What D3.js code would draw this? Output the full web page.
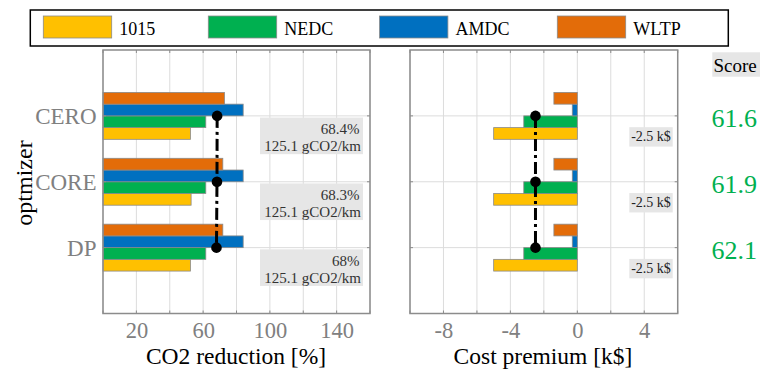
<!DOCTYPE html>
<html><head><meta charset="utf-8">
<script src="https://cdn.jsdelivr.net/npm/d3@7"></script>
<style>
body{margin:0;background:#fff;}
svg{display:block;font-family:"Liberation Serif","DejaVu Serif",serif;}
</style></head>
<body><svg id="c" width="760" height="370"></svg>
<script>
// ---- data ----
const categories = ["CERO", "CORE", "DP"];
const seriesNames = ["1015", "NEDC", "AMDC", "WLTP"];
const seriesColors = ["#FFC000", "#00B050", "#0070C0", "#E36C09"];
const co2_1015 = [52.4, 52.8, 52.4];
const co2_NEDC = [61.6, 61.6, 61.6];
const co2_AMDC = [84.0, 84.0, 84.0];
const co2_WLTP = [72.8, 71.8, 71.8];
const cost_1015 = [-5.0, -5.0, -5.0];
const cost_NEDC = [-3.2, -3.2, -3.2];
const cost_AMDC = [-0.3, -0.3, -0.3];
const cost_WLTP = [-1.4, -1.4, -1.4];
const co2Mean = [68.4, 68.3, 68];
const co2Abs = [125.1, 125.1, 125.1];
const costMean = [-2.5, -2.5, -2.5];
const scores = [61.6, 61.9, 62.1];
const co2Ticks = [20, 60, 100, 140];
const costTicks = [-8, -4, 0, 4];
const co2Domain = [0, 160];
const costDomain = [-10, 6];

const co2Series = [co2_1015, co2_NEDC, co2_AMDC, co2_WLTP];
const costSeries = [cost_1015, cost_NEDC, cost_AMDC, cost_WLTP];

// ---- layout ----
const svg = d3.select("#c");
const pTop = 50, pBottom = 313.5;
const y = d3.scaleLinear().domain([0, categories.length + 1]).range([pTop, pBottom]);
const xL = d3.scaleLinear().domain(co2Domain).range([103, 370]);
const xR = d3.scaleLinear().domain(costDomain).range([410, 677.7]);
const sub = d3.scaleBand().domain(seriesNames.slice().reverse()).range([-0.356, 0.356]);

const GRID = "#dcdcdc", AX = "#8c8c8c", TXT_GRAY = "#808080";

function panel(x, gridTicks, labelTicks, seriesVals, title, titleX) {
  const g = svg.append("g");
  const [x0, x1] = x.range();
  g.selectAll("line.vg").data(gridTicks).join("line")
    .attr("x1", d => x(d)).attr("x2", d => x(d)).attr("y1", pTop).attr("y2", pBottom)
    .attr("stroke", GRID).attr("stroke-width", 1);
  g.selectAll("line.hg").data(categories).join("line")
    .attr("x1", x0).attr("x2", x1).attr("y1", (d, i) => y(i + 1)).attr("y2", (d, i) => y(i + 1))
    .attr("stroke", GRID).attr("stroke-width", 1);
  seriesNames.forEach((s, si) => {
    g.selectAll(null).data(seriesVals[si]).join("rect")
      .attr("x", d => x(Math.min(0, d)))
      .attr("width", d => Math.abs(x(d) - x(0)))
      .attr("y", (d, i) => y(i + 1 + sub(s)))
      .attr("height", (d, i) => y(i + 1 + sub(s) + sub.bandwidth()) - y(i + 1 + sub(s)))
      .attr("fill", seriesColors[si]).attr("stroke", "#8a8a8a").attr("stroke-width", 0.8);
  });
  g.selectAll(null).data(gridTicks).join("line")
    .attr("x1", d => x(d)).attr("x2", d => x(d)).attr("y1", pBottom).attr("y2", pBottom - 3)
    .attr("stroke", AX);
  g.selectAll(null).data(gridTicks).join("line")
    .attr("x1", d => x(d)).attr("x2", d => x(d)).attr("y1", pTop).attr("y2", pTop + 3)
    .attr("stroke", AX);
  g.selectAll(null).data(categories).join("line")
    .attr("x1", x1).attr("x2", x1 - 3).attr("y1", (d, i) => y(i + 1)).attr("y2", (d, i) => y(i + 1))
    .attr("stroke", AX);
  g.selectAll(null).data(categories).join("line")
    .attr("x1", x0).attr("x2", x0 + 3).attr("y1", (d, i) => y(i + 1)).attr("y2", (d, i) => y(i + 1))
    .attr("stroke", AX);
  g.append("rect").attr("x", x0).attr("y", pTop).attr("width", x1 - x0).attr("height", pBottom - pTop)
    .attr("fill", "none").attr("stroke", AX).attr("stroke-width", 1.5);
  const ax = g.append("g").attr("transform", `translate(0,${pBottom})`)
    .call(d3.axisBottom(x).tickValues(labelTicks).tickSize(0).tickPadding(9).tickFormat(d => String(d)));
  ax.select(".domain").remove();
  ax.selectAll("text").attr("font-size", 22.5).attr("fill", TXT_GRAY)
    .attr("font-family", "Liberation Serif").attr("dy", "0").attr("y", 338 - pBottom);
  svg.append("text").attr("x", titleX).attr("y", 364).attr("text-anchor", "middle")
    .attr("font-size", 23.5).attr("fill", "#000").text(title);
  return g;
}

const gL = panel(xL, d3.range(co2Domain[0], co2Domain[1] + 1, 20), co2Ticks, co2Series, "CO2 reduction [%]", 236);
const gR = panel(xR, d3.range(costDomain[0], costDomain[1] + 1, 2), costTicks, costSeries, "Cost premium [k$]", 543);

function meanLine(g, x, vals) {
  const line = d3.line().x(d => x(d[0])).y(d => y(d[1]));
  g.append("path").datum(vals.map((v, i) => [v, i + 1])).attr("d", line)
    .attr("fill", "none").attr("stroke", "#000").attr("stroke-width", 3)
    .attr("stroke-dasharray", "12,4,3,4");
  g.selectAll(null).data(vals).join("circle")
    .attr("cx", d => x(d)).attr("cy", (d, i) => y(i + 1)).attr("r", 5.3).attr("fill", "#000");
}
meanLine(gL, xL, co2Mean);
meanLine(gR, xR, costMean);

categories.forEach((c, i) => {
  const cy = y(i + 1);
  svg.append("rect").attr("x", 260).attr("y", cy + 1.7).attr("width", 103).attr("height", 36.6).attr("fill", "#e6e6e6");
  svg.append("text").attr("x", 359.5).attr("y", cy + 18.5).attr("text-anchor", "end")
    .attr("font-size", 15).attr("fill", "#333").text(co2Mean[i] + "%");
  svg.append("text").attr("x", 361).attr("y", cy + 35).attr("text-anchor", "end")
    .attr("font-size", 15).attr("fill", "#333").text(co2Abs[i].toFixed(1) + " gCO2/km");
  svg.append("rect").attr("x", 629.3).attr("y", cy + 11.3).attr("width", 43.4).attr("height", 19.4).attr("fill", "#e6e6e6");
  svg.append("text").attr("x", 651).attr("y", cy + 25.5).attr("text-anchor", "middle")
    .attr("font-size", 14).attr("fill", "#222").text(costMean[i] + " k$");
  svg.append("text").attr("x", 96.5).attr("y", cy).attr("dy", "0.35em").attr("text-anchor", "end")
    .attr("font-size", 23).attr("fill", TXT_GRAY).text(c);
  svg.append("text").attr("x", 711.5).attr("y", cy + 2).attr("dy", "0.35em")
    .attr("font-size", 26).attr("fill", "#00B050").text(scores[i]);
});

svg.append("text").attr("transform", "translate(32,183) rotate(-90)").attr("text-anchor", "middle")
  .attr("font-size", 24).attr("fill", "#000").text("optmizer");

svg.append("rect").attr("x", 712.3).attr("y", 52.3).attr("width", 48).attr("height", 24.4).attr("fill", "#e6e6e6");
svg.append("text").attr("x", 713.5).attr("y", 71.5).attr("font-size", 19).attr("fill", "#000").text("Score");

svg.append("rect").attr("x", 30.3).attr("y", 10).attr("width", 698).attr("height", 36)
  .attr("fill", "#fff").attr("stroke", "#000").attr("stroke-width", 1.5);
const legX = [43.3, 208.3, 379.5, 557.3];
const lg = svg.selectAll("g.leg").data(seriesNames).join("g")
  .attr("transform", (d, i) => `translate(${legX[i]},0)`);
lg.append("rect").attr("x", 0).attr("y", 16).attr("width", 68.4).attr("height", 22)
  .attr("fill", (d, i) => seriesColors[i]).attr("stroke", "#8a8a8a").attr("stroke-width", 0.8);
lg.append("text").attr("x", 76).attr("y", 34.5).attr("font-size", 18).attr("fill", "#000").text(d => d);
</script></body></html>
